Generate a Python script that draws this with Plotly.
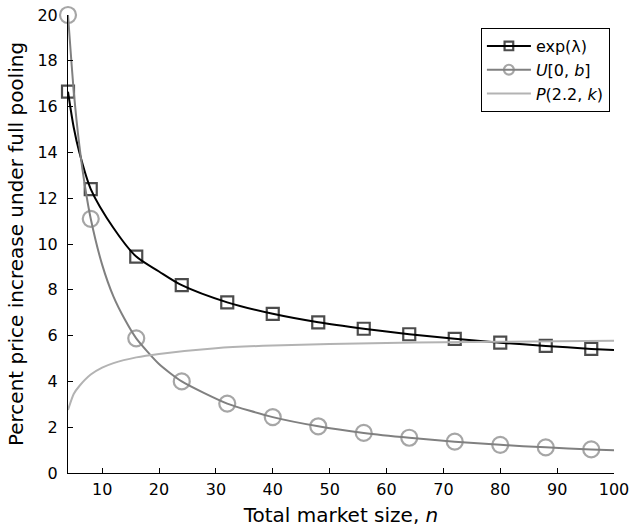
import plotly.graph_objects as go

# ---- data ----
exp_n = [4, 5, 6, 8, 12, 16, 20, 24, 32, 40, 48, 56, 64, 72, 80, 88, 96, 100]
exp_v = [16.65, 15.1, 14.0, 12.4, 10.7, 9.45, 8.8, 8.2, 7.45, 6.95, 6.58, 6.3, 6.06, 5.86, 5.69, 5.55, 5.42, 5.37]
exp_mark = [True, False, False, True, False, True, False, True, True, True, True, True, True, True, True, True, True, False]

u_n = [4, 5, 6, 7, 8, 10, 12, 14, 16, 20, 24, 32, 40, 48, 56, 64, 72, 80, 88, 96, 100]
u_v = [20.0, 16.7, 14.3, 12.5, 11.1, 9.1, 7.7, 6.7, 5.88, 4.76, 4.0, 3.03, 2.44, 2.04, 1.75, 1.54, 1.37, 1.23, 1.12, 1.03, 0.99]
u_mark = [True, False, False, False, True, False, False, False, True, False, True, True, True, True, True, True, True, True, True, True, False]

p_n = [4, 5, 6, 8, 10, 12, 16, 20, 30, 40, 50, 60, 70, 80, 90, 100]
p_v = [2.75, 3.45, 3.8, 4.3, 4.6, 4.8, 5.05, 5.2, 5.45, 5.57, 5.63, 5.68, 5.71, 5.73, 5.75, 5.77]

x_ticks = [10, 20, 30, 40, 50, 60, 70, 80, 90, 100]
y_ticks = [0, 2, 4, 6, 8, 10, 12, 14, 16, 18, 20]

FONT = "DejaVu Sans, Liberation Sans, Arial, sans-serif"

fig = go.Figure()

fig.add_trace(go.Scatter(
    x=exp_n, y=exp_v, mode="lines+markers", name="exp(λ)",
    line=dict(color="black", width=2, shape="spline", smoothing=0.8),
    marker=dict(symbol="square-open", color="black", size=[12 if m else 0 for m in exp_mark],
                line=dict(width=2.2, color="black")),
    cliponaxis=False,
))
fig.add_trace(go.Scatter(
    x=u_n, y=u_v, mode="lines+markers", name="<i>U</i>[0, <i>b</i>]",
    line=dict(color="#808080", width=2, shape="spline", smoothing=0.6),
    marker=dict(symbol="circle-open", color="#808080", size=[16 if m else 0 for m in u_mark],
                line=dict(width=2.2, color="#808080")),
    cliponaxis=False,
))
fig.add_trace(go.Scatter(
    x=p_n, y=p_v, mode="lines", name="<i>P</i>(2.2, <i>k</i>)",
    line=dict(color="#b3b3b3", width=2, shape="spline", smoothing=0.6),
    cliponaxis=False,
))

fig.update_layout(
    width=631, height=531,
    margin=dict(l=68, r=17, t=15, b=58),
    paper_bgcolor="white", plot_bgcolor="white",
    font=dict(family=FONT, size=16, color="black"),
    showlegend=True,
    legend=dict(
        x=0.9925, xanchor="right", y=0.9716, yanchor="top",
        bordercolor="black", borderwidth=1, bgcolor="white",
        font=dict(size=16), tracegroupgap=0, itemwidth=44,
    ),
)

fig.update_xaxes(
    range=[4, 100], tickvals=x_ticks, ticks="inside", ticklen=5, tickwidth=1, tickcolor="black",
    showline=True, linecolor="black", linewidth=1, showgrid=False, zeroline=False,
    title=dict(text="Total market size, <i>n</i>", font=dict(size=20), standoff=9),
    tickfont=dict(size=16), ticklabelstandoff=2, automargin=False,
)
fig.update_yaxes(
    range=[0, 20], tickvals=y_ticks, ticks="inside", ticklen=5, tickwidth=1, tickcolor="black",
    showline=True, linecolor="black", linewidth=1, showgrid=False, zeroline=False,
    title=dict(text="Percent price increase under full pooling", font=dict(size=20), standoff=8),
    tickfont=dict(size=16), ticklabelstandoff=6, automargin=False,
)

fig.write_html("out.html")
